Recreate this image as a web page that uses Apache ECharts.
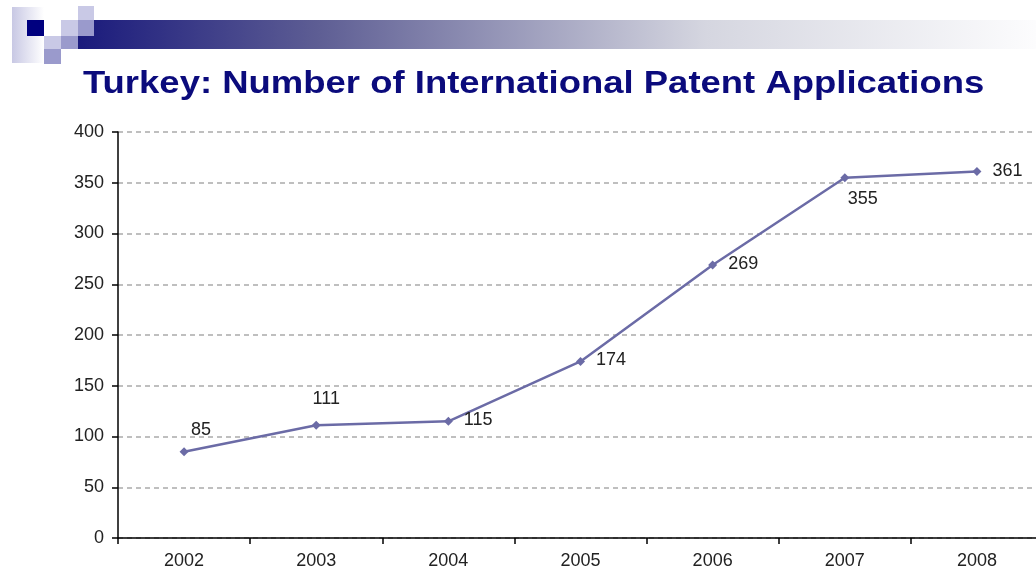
<!DOCTYPE html>
<html><head><meta charset="utf-8">
<script src="https://cdn.jsdelivr.net/npm/echarts@6/dist/echarts.min.js"></script>
<style>html,body{margin:0;padding:0;background:#fff;overflow:hidden}#c{width:1043px;height:574px}</style>
</head><body><div id="c"></div>
<script>
var years = ['2002','2003','2004','2005','2006','2007','2008'];
var applications = [85,111,115,174,269,355,361];
var labelPositions = ['top','top','right','right','right','bottom','right'];
var yTicks = {min:0, max:400, interval:50};
var titleText = 'Turkey: Number of International Patent Applications';

var chart = echarts.init(document.getElementById('c'));
var lightSq = '#c9c9e6', medSq = '#9a9acc', navy = '#00007f';
var FONT = 'Liberation Sans, Arial, sans-serif';
var labelOffsets = {top:[10,-3], right:[6,-1], bottom:[18,3]};
var data = applications.map(function(v,i){
  var pos = labelPositions[i];
  var off = labelOffsets[pos].slice();
  if (i === 0) off[0] += 7;
  if (i === 1) off[1] -= 5;
  return {value: v, label: {position: pos, offset: off}};
});
chart.setOption({
  animation:false,
  backgroundColor:'#fff',
  graphic:[
    {type:'rect', shape:{x:78,y:20,width:965,height:29}, style:{fill:{type:'linear',x:0,y:0,x2:1,y2:0,colorStops:[
      {offset:0,color:'#1a1a7c'},{offset:0.25,color:'#5e5e94'},{offset:0.65,color:'#d5d6e0'},{offset:1,color:'#fdfdfe'}]}}},
    {type:'rect', shape:{x:12,y:7,width:32,height:56}, style:{fill:{type:'linear',x:0,y:0,x2:1,y2:0,colorStops:[
      {offset:0,color:'#c8c8e4'},{offset:1,color:'#ffffff'}]}}},
    {type:'rect', shape:{x:27,y:20,width:17,height:16}, style:{fill:navy}},
    {type:'rect', shape:{x:44,y:36,width:17,height:13}, style:{fill:lightSq}},
    {type:'rect', shape:{x:44,y:49,width:17,height:15}, style:{fill:medSq}},
    {type:'rect', shape:{x:61,y:20,width:17,height:16}, style:{fill:lightSq}},
    {type:'rect', shape:{x:61,y:36,width:17,height:13}, style:{fill:medSq}},
    {type:'rect', shape:{x:78,y:6,width:16,height:14}, style:{fill:lightSq}},
    {type:'rect', shape:{x:78,y:20,width:16,height:16}, style:{fill:medSq}},
    {type:'text', x:83, y:84, scaleX:1.14, scaleY:1, originX:0, originY:0,
      style:{text:titleText, font:'bold 32px "Liberation Sans", Arial, sans-serif', fill:'#0b0b7c',
        textAlign:'left', textVerticalAlign:'middle',
        shadowColor:'rgba(0,0,0,0.25)', shadowBlur:2, shadowOffsetX:1, shadowOffsetY:1}}
  ],
  grid:{left:118, top:132, bottom:36, right:0, containLabel:false},
  xAxis:{
    type:'category', data:years, boundaryGap:true,
    axisLine:{lineStyle:{color:'#000', width:1.5}},
    axisTick:{show:true, length:6, inside:false, lineStyle:{color:'#000', width:1.5}},
    axisLabel:{fontFamily:FONT, fontSize:18, color:'#222', margin:14},
    splitLine:{show:false}
  },
  yAxis:{
    type:'value', min:yTicks.min, max:yTicks.max, interval:yTicks.interval,
    axisLine:{show:true, lineStyle:{color:'#000', width:1.5}},
    axisTick:{show:true, length:6, lineStyle:{color:'#000', width:1.5}},
    axisLabel:{fontFamily:FONT, fontSize:18, color:'#222', margin:14},
    splitLine:{show:true, lineStyle:{color:'#aaa', type:[5,4], width:1.5}}
  },
  series:[{
    type:'line', data:data,
    symbol:'diamond', symbolSize:9,
    lineStyle:{color:'#6b6ba6', width:2.5},
    itemStyle:{color:'#6b6ba6'},
    label:{show:true, fontFamily:FONT, fontSize:18, color:'#222', distance:5}
  }]
});
</script></body></html>
